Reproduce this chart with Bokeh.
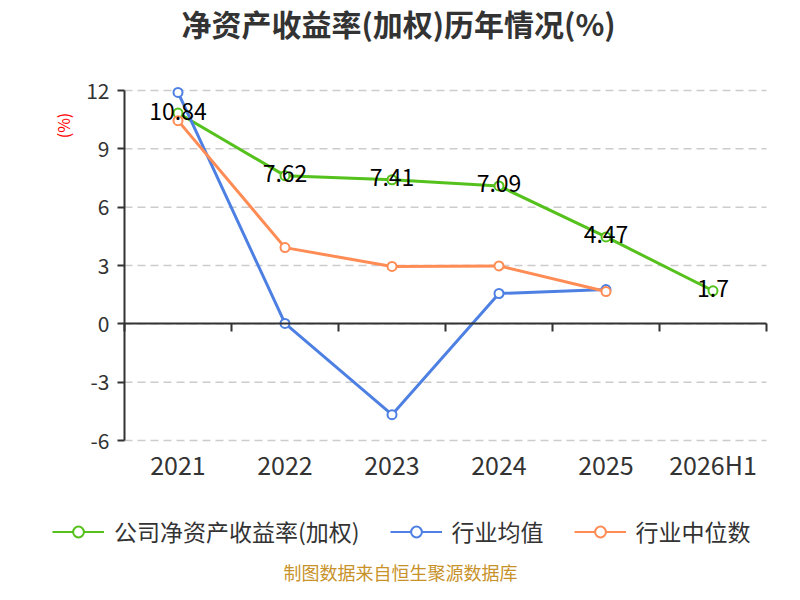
import math
from bokeh.plotting import figure
from bokeh.models import (Range1d, FixedTicker, LinearAxis, Label, Legend, LegendItem,
                          ColumnDataSource, Grid)
from bokeh.core.properties import value
from bokeh.embed import file_html
from bokeh.resources import INLINE

categories = ["2021", "2022", "2023", "2024", "2025", "2026H1"]
company = [10.84, 7.62, 7.41, 7.09, 4.47, 1.7]
industry_mean = [11.9, 0.02, -4.67, 1.56, 1.76]
industry_median = [10.45, 3.92, 2.95, 2.98, 1.66]
y_ticks = [-6, -3, 0, 3, 6, 9, 12]

series_names = ["公司净资产收益率(加权)", "行业均值", "行业中位数"]
colors = ["#55c11c", "#4d80e2", "#ff8c55"]
FONT = "Noto Sans CJK SC"
TXT = "#333333"

# canvas and plotting-area geometry (pixels)
W, H = 784, 584
PL, PR, PT, PB = 124, 766, 90, 440

n = len(categories)
x0, x1 = -0.5, n - 0.5
y0, y1 = y_ticks[0], y_ticks[-1]
kx = (PR - PL) / (x1 - x0)
ky = (PB - PT) / (y1 - y0)
xr = Range1d(x0 - PL / kx, x1 + (W - PR) / kx)
yr = Range1d(y0 - (H - PB) / ky, y1 + PT / ky)

p = figure(width=W, height=H, output_backend="svg", toolbar_location=None,
           x_range=xr, y_range=yr, min_border=0,
           x_axis_location=None, y_axis_location=None)
p.center = [c for c in p.center if not isinstance(c, Grid)]
p.outline_line_color = None
p.background_fill_color = "white"
p.border_fill_color = "white"

# dashed horizontal grid lines over the plotting area
p.segment(x0=[x0] * len(y_ticks), x1=[x1] * len(y_ticks), y0=y_ticks, y1=y_ticks,
          line_color="#cccccc", line_width=1.5, line_dash="8 5")

# y axis
ya = LinearAxis(fixed_location=x0, bounds=(y0, y1), ticker=FixedTicker(ticks=y_ticks))
ya.major_label_overrides = {t: str(t) for t in y_ticks}
ya.axis_line_color = TXT
ya.axis_line_width = 2
ya.major_tick_line_color = TXT
ya.major_tick_line_width = 2
ya.major_tick_in = 0
ya.major_tick_out = 7
ya.minor_tick_line_color = None
ya.major_label_standoff = 8
ya.major_label_text_font = FONT
ya.major_label_text_font_size = "21px"
ya.major_label_text_color = TXT
p.add_layout(ya, "left")

# category labels along the bottom
xa = LinearAxis(fixed_location=y0, ticker=FixedTicker(ticks=list(range(n))))
xa.major_label_overrides = {i: c for i, c in enumerate(categories)}
xa.axis_line_color = None
xa.major_tick_line_color = None
xa.major_tick_in = 0
xa.major_tick_out = 0
xa.minor_tick_line_color = None
xa.major_label_standoff = 5
xa.major_label_text_font = FONT
xa.major_label_text_font_size = "25px"
xa.major_label_text_color = TXT
p.add_layout(xa, "below")

# zero line with category boundary ticks
bticks = [i - 0.5 for i in range(n + 1)]
za = LinearAxis(fixed_location=0, bounds=(x0, x1), ticker=FixedTicker(ticks=bticks))
za.major_label_overrides = {t: "" for t in bticks}
za.major_label_standoff = 0
za.axis_line_color = TXT
za.axis_line_width = 2
za.major_tick_line_color = TXT
za.major_tick_line_width = 2
za.major_tick_in = 0
za.major_tick_out = 8
za.minor_tick_line_color = None
p.add_layout(za, "below")

data = [company, industry_mean, industry_median]
items = []
for name, vals, col in zip(series_names, data, colors):
    src = ColumnDataSource(dict(x=list(range(len(vals))), y=vals))
    p.line("x", "y", source=src, line_color=col, line_width=3)
    p.scatter("x", "y", source=src, size=9, marker="circle", fill_color="white",
              line_color=col, line_width=2)
    # legend proxy glyphs (no visible point)
    lsrc = ColumnDataSource(dict(x=[float("nan")], y=[float("nan")]))
    lr = p.line("x", "y", source=lsrc, line_color=col, line_width=2)
    cr = p.scatter("x", "y", source=lsrc, size=16, marker="circle", fill_color="white",
                   line_color=col, line_width=2)
    items.append(LegendItem(label=name, renderers=[lr, cr]))

lab_src = ColumnDataSource(dict(x=list(range(len(company))), y=company,
                                t=[f"{v:g}" for v in company]))
p.text("x", "y", text="t", source=lab_src, text_align="center", text_baseline="middle",
       text_font=value(FONT), text_font_size="23px", text_color="#000000", y_offset=-2)

legend = Legend(items=items, orientation="horizontal", location=(52, H - 534 - 14),
                glyph_width=52, glyph_height=27, label_standoff=10, spacing=30,
                padding=0, margin=0, border_line_color=None, background_fill_alpha=0,
                label_text_font=FONT, label_text_font_size="23px",
                label_text_color=TXT, label_height=27)
p.add_layout(legend, "center")

p.add_layout(Label(x=398, y=H - 22, x_units="screen", y_units="screen",
                   text="净资产收益率(加权)历年情况(%)", text_align="center",
                   text_baseline="middle", text_font=FONT, text_font_size="30px",
                   text_font_style="bold", text_color=TXT))
p.add_layout(Label(x=62, y=H - 125, x_units="screen", y_units="screen",
                   text="(%)", angle=math.pi / 2, text_align="center",
                   text_baseline="middle", text_font=FONT, text_font_size="16px",
                   text_color="#ff0000"))
p.add_layout(Label(x=400, y=H - 571, x_units="screen", y_units="screen",
                   text="制图数据来自恒生聚源数据库", text_align="center",
                   text_baseline="middle", text_font=FONT, text_font_size="18px",
                   text_color="#c8922a"))

open("out.html", "w").write(file_html(p, INLINE))
